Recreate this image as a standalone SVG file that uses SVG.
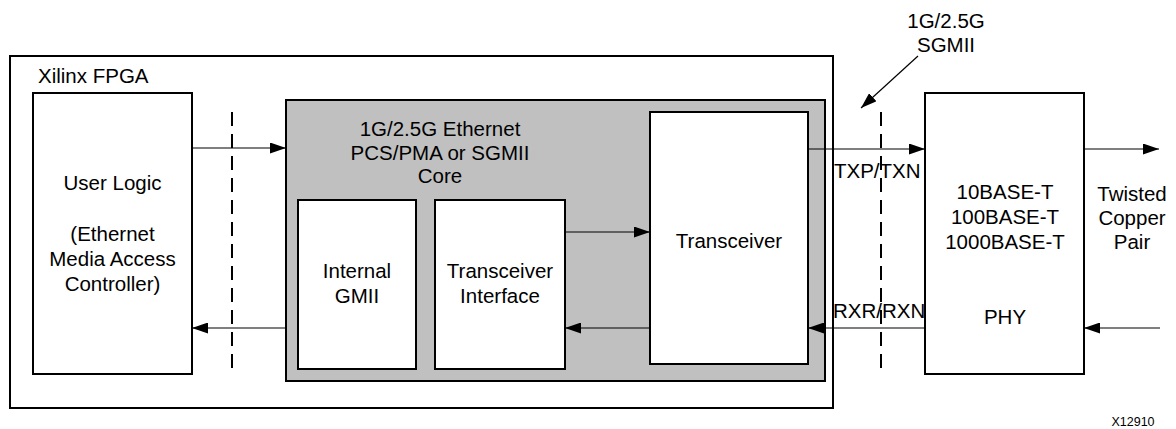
<svg xmlns="http://www.w3.org/2000/svg" width="1176" height="429" viewBox="0 0 1176 429">
<defs>
<marker id="ah" viewBox="0 0 16 11" refX="16" refY="5.5" markerWidth="16" markerHeight="11" markerUnits="userSpaceOnUse" orient="auto">
<path d="M0,0 L16,5.5 L0,11 Z" fill="#000"/>
</marker>
</defs>
<style>
text{font-family:"Liberation Sans",Arial,sans-serif;font-size:20.5px;fill:#000}
.c{text-anchor:middle}
.box{fill:#fff;stroke:#000;stroke-width:2}
.core{fill:#c0c0c0;stroke:#000;stroke-width:2}
.ln{stroke:#000;stroke-width:1.2;fill:none;marker-end:url(#ah)}
.dash{stroke:#000;stroke-width:2;stroke-dasharray:14,8;fill:none}
</style>
<rect width="1176" height="429" fill="#fff"/>
<g id="fpga">
<rect class="box" x="10" y="56" width="823" height="352"/>
<text x="38" y="83">Xilinx FPGA</text>
</g>
<g id="userlogic">
<rect class="box" x="33" y="93" width="159" height="281"/>
<text class="c" x="112.5" y="190">User Logic</text>
<text class="c" x="112.5" y="241">(Ethernet</text>
<text class="c" x="112.5" y="266">Media Access</text>
<text class="c" x="112.5" y="291">Controller)</text>
</g>
<g id="core">
<rect class="core" x="286" y="100" width="539" height="281"/>
<text class="c" x="440" y="136">1G/2.5G Ethernet</text>
<text class="c" x="440" y="160">PCS/PMA or SGMII</text>
<text class="c" x="440" y="183">Core</text>
</g>
<g id="gmii">
<rect class="box" x="298" y="200" width="118" height="169"/>
<text class="c" x="357" y="278">Internal</text>
<text class="c" x="357" y="303">GMII</text>
</g>
<g id="txif">
<rect class="box" x="435" y="200" width="130" height="169"/>
<text class="c" x="500" y="278">Transceiver</text>
<text class="c" x="500" y="303">Interface</text>
</g>
<g id="transceiver">
<rect class="box" x="650" y="112" width="158" height="252"/>
<text class="c" x="729" y="248">Transceiver</text>
</g>
<g id="phy">
<rect class="box" x="925" y="93" width="159" height="281"/>
<text class="c" x="1005" y="199">10BASE-T</text>
<text class="c" x="1005" y="224">100BASE-T</text>
<text class="c" x="1005" y="249">1000BASE-T</text>
<text class="c" x="1005" y="324">PHY</text>
</g>
<g id="labels">
<text class="c" x="946" y="28">1G/2.5G</text>
<text class="c" x="946" y="52">SGMII</text>
<text x="834" y="178">TXP/TXN</text>
<text x="833" y="318">RXR/RXN</text>
<text class="c" x="1132" y="201">Twisted</text>
<text class="c" x="1132" y="225">Copper</text>
<text class="c" x="1132" y="249">Pair</text>
<text class="c" x="1133" y="426" style="font-size:12.5px">X12910</text>
</g>
<g id="connectors">
<line class="dash" x1="232" y1="112" x2="232" y2="376"/>
<line class="dash" x1="881" y1="112" x2="881" y2="372"/>
<line class="ln" x1="192" y1="148" x2="286" y2="148"/>
<line class="ln" x1="286" y1="328" x2="192" y2="328"/>
<line class="ln" x1="565" y1="232" x2="650" y2="232"/>
<line class="ln" x1="650" y1="328" x2="565" y2="328"/>
<line class="ln" x1="808" y1="149" x2="925" y2="149"/>
<line class="ln" x1="925" y1="328" x2="808" y2="328"/>
<line class="ln" x1="1084" y1="149" x2="1159" y2="149"/>
<line class="ln" x1="1160" y1="328" x2="1084" y2="328"/>
<line class="ln" x1="918" y1="56" x2="861" y2="108"/>
</g>
</svg>
